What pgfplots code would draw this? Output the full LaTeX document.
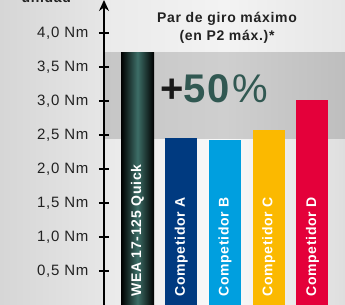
\documentclass[border=0pt]{standalone}
\usepackage{pgfplots}
\pgfplotsset{compat=1.18}
\usepackage{fontspec}
\setmainfont{Liberation Sans}[LetterSpace=5]
\usetikzlibrary{arrows.meta}
\definecolor{weateal}{HTML}{3D6E67}
\definecolor{compA}{HTML}{003A80}
\definecolor{compB}{HTML}{009FDF}
\definecolor{compC}{HTML}{FBB900}
\definecolor{compD}{HTML}{E4003A}
\definecolor{txtdark}{HTML}{222222}
\tikzset{barlab/.style={font=\bfseries\fontsize{14bp}{16bp}\selectfont, text=white, rotate=90, anchor=west, inner sep=0pt}}
\begin{document}
\begin{tikzpicture}
\useasboundingbox (0,0) rectangle (345bp,305bp);
% background
\shade[left color={rgb,255:red,214;green,214;blue,214}, right color={rgb,255:red,230;green,230;blue,230}] (0,0) rectangle (104bp,305bp);
\shade[left color={rgb,255:red,234;green,234;blue,234}, right color={rgb,255:red,230;green,230;blue,230}, middle color={rgb,255:red,243;green,243;blue,243}] (104bp,252bp) rectangle (345bp,305bp);
\shade[left color={rgb,255:red,198;green,198;blue,198}, right color={rgb,255:red,190;green,190;blue,190}, middle color={rgb,255:red,207;green,207;blue,207}] (104bp,165bp) rectangle (345bp,252bp);
\shade[left color={rgb,255:red,233;green,233;blue,233}, right color={rgb,255:red,222;green,222;blue,222}, middle color={rgb,255:red,250;green,250;blue,250}] (104bp,0) rectangle (345bp,165bp);
\node[font=\bfseries\fontsize{14bp}{16bp}\selectfont, text=txtdark, anchor=base west] at (18bp,302bp) {unidad};
\node[font=\bfseries\fontsize{14bp}{16bp}\selectfont, text=txtdark, anchor=base] at (227bp,282bp) {Par de giro máximo};
\node[font=\bfseries\fontsize{14bp}{16bp}\selectfont, text=txtdark, anchor=base] at (227bp,264bp) {(en P2 máx.)*};
\begin{axis}[
  at={(104bp,0bp)}, anchor=south west,
  scale only axis, width=241bp, height=305bp,
  xmin=-0.766, xmax=4.743, ymin=0, ymax=4.485,
  clip=false,
  axis x line=none,
  axis y line=left,
  y axis line style={line width=1.6pt, black, -{Stealth[length=11bp,width=10bp]}},
  ytick={0.5,1.0,1.5,2.0,2.5,3.0,3.5,4.0},
  yticklabels={{0,5 Nm},{1,0 Nm},{1,5 Nm},{2,0 Nm},{2,5 Nm},{3,0 Nm},{3,5 Nm},{4,0 Nm}},
  yticklabel style={font=\fontsize{15bp}{17bp}\selectfont, text=txtdark, xshift=-7bp},
  major tick length=10bp, tick align=center,
  ytick style={line width=1.2pt, black},
  ybar, bar shift=0pt,
]
\addplot[ybar, bar width=33bp, draw=none, left color=black, right color=black, middle color=weateal] coordinates {(0,3.72)};
\addplot[ybar, bar width=32bp, draw=none, fill=compA] coordinates {(1,2.46)};
\addplot[ybar, bar width=32bp, draw=none, fill=compB] coordinates {(2,2.43)};
\addplot[ybar, bar width=32bp, draw=none, fill=compC] coordinates {(3,2.57)};
\addplot[ybar, bar width=32bp, draw=none, fill=compD] coordinates {(4,3.01)};
\node[barlab] at (axis cs:0,0.12) {WEA 17-125 Quick};
\node[barlab] at (axis cs:1,0.12) {Competidor A};
\node[barlab] at (axis cs:2,0.12) {Competidor B};
\node[barlab] at (axis cs:3,0.12) {Competidor C};
\node[barlab] at (axis cs:4,0.12) {Competidor D};
\end{axis}
\node[anchor=base west, font=\bfseries\fontsize{40bp}{44bp}\selectfont, inner sep=0pt] at (160bp,202bp) {\textcolor{black!90}{+}\textcolor{weateal!80!black}{50\textmd{\%}}};
\end{tikzpicture}
\end{document}
